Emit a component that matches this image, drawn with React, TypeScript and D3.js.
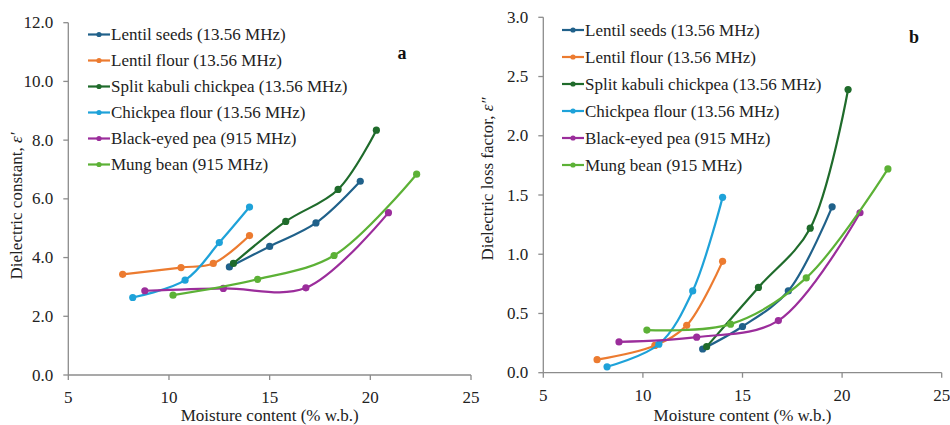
import React from 'react';
import * as d3 from 'd3';

// series names and colours
const seriesNames = [
  'Lentil seeds (13.56 MHz)',
  'Lentil flour (13.56 MHz)',
  'Split kabuli chickpea (13.56 MHz)',
  'Chickpea flour (13.56 MHz)',
  'Black-eyed pea (915 MHz)',
  'Mung bean (915 MHz)',
];
const seriesColors = ['#20618a', '#ec7b30', '#1f6b2b', '#1ea2d9', '#9b2d9b', '#5cb136'];

// moisture content (% w.b.)
const moistureLentilSeeds = [13.0, 15.0, 17.3, 19.5];
const moistureLentilFlour = [7.7, 10.6, 12.2, 14.0];
const moistureKabuli = [13.2, 15.8, 18.4, 20.3];
const moistureChickpeaFlour = [8.2, 10.8, 12.5, 14.0];
const moistureBlackEyed = [8.8, 12.7, 16.8, 20.9];
const moistureMung = [10.2, 14.4, 18.2, 22.3];

// dielectric constant (panel a)
const constLentilSeeds = [3.68, 4.38, 5.18, 6.6];
const constLentilFlour = [3.43, 3.66, 3.8, 4.75];
const constKabuli = [3.8, 5.23, 6.32, 8.34];
const constChickpeaFlour = [2.64, 3.23, 4.51, 5.72];
const constBlackEyed = [2.87, 2.95, 2.97, 5.53];
const constMung = [2.72, 3.26, 4.07, 6.84];

// dielectric loss factor (panel b)
const lossLentilSeeds = [0.2, 0.39, 0.69, 1.4];
const lossLentilFlour = [0.11, 0.23, 0.4, 0.94];
const lossKabuli = [0.22, 0.72, 1.22, 2.39];
const lossChickpeaFlour = [0.05, 0.24, 0.69, 1.48];
const lossBlackEyed = [0.26, 0.3, 0.44, 1.35];
const lossMung = [0.36, 0.41, 0.8, 1.72];

const xTicks = [5, 10, 15, 20, 25];
const yTicksA = [0, 2, 4, 6, 8, 10, 12];
const yTicksB = [0, 0.5, 1, 1.5, 2, 2.5, 3];

const moisture = [
  moistureLentilSeeds, moistureLentilFlour, moistureKabuli,
  moistureChickpeaFlour, moistureBlackEyed, moistureMung,
];
const constValues = [
  constLentilSeeds, constLentilFlour, constKabuli,
  constChickpeaFlour, constBlackEyed, constMung,
];
const lossValues = [
  lossLentilSeeds, lossLentilFlour, lossKabuli,
  lossChickpeaFlour, lossBlackEyed, lossMung,
];

const FONT = 'Liberation Serif, DejaVu Serif, serif';
const AXIS = '#8c8c8c';
const FS = 17;

type PanelProps = {
  values: number[][];
  yTicks: number[];
  yMax: number;
  x0: number; x1: number; yTop: number; yBottom: number;
  yTitle: React.ReactNode;
  yTitleX: number; yTitleY: number;
  letter: string; letterX: number; letterY: number;
  legendX: number; legendY: number; legendStep: number;
};

const Panel = (p: PanelProps) => {
  const x = d3.scaleLinear().domain([5, 25]).range([p.x0, p.x1]);
  const y = d3.scaleLinear().domain([0, p.yMax]).range([p.yBottom, p.yTop]);
  const line = d3.line<[number, number]>()
    .x(d => x(d[0]))
    .y(d => y(d[1]))
    .curve(d3.curveCatmullRom.alpha(0.5));

  return (
    <g>
      {/* axes */}
      <line x1={p.x0} x2={p.x1} y1={p.yBottom} y2={p.yBottom} stroke={AXIS} strokeWidth={1.3} />
      <line x1={p.x0} x2={p.x0} y1={p.yTop} y2={p.yBottom} stroke={AXIS} strokeWidth={1.3} />
      {xTicks.map(t => (
        <g key={'x' + t}>
          <line x1={x(t)} x2={x(t)} y1={p.yBottom} y2={p.yBottom + 5} stroke={AXIS} strokeWidth={1.3} />
          <text x={x(t)} y={p.yBottom + 28} textAnchor="middle" fontSize={FS} fill="#222">{t}</text>
        </g>
      ))}
      {p.yTicks.map(t => (
        <g key={'y' + t}>
          <line x1={p.x0 - 5} x2={p.x0} y1={y(t)} y2={y(t)} stroke={AXIS} strokeWidth={1.3} />
          <text x={p.x0 - 15} y={y(t) + 5.5} textAnchor="end" fontSize={FS} fill="#222">{t.toFixed(1)}</text>
        </g>
      ))}
      <text x={(p.x0 + p.x1) / 2} y={421} textAnchor="middle" fontSize={FS} fill="#222">Moisture content (% w.b.)</text>
      <text transform={`translate(${p.yTitleX},${p.yTitleY}) rotate(-90)`} textAnchor="middle" fontSize={FS} fill="#222">
        {p.yTitle}
      </text>
      <text x={p.letterX} y={p.letterY} fontSize={18} fontWeight="bold" fill="#111" textAnchor="middle">{p.letter}</text>

      {/* series */}
      {p.values.map((vals, i) => {
        const pts = vals.map((v, j) => [moisture[i][j], v] as [number, number]);
        return (
          <g key={seriesNames[i]}>
            <path d={line(pts) || ''} fill="none" stroke={seriesColors[i]} strokeWidth={2.2} />
            {pts.map((d, j) => (
              <circle key={j} cx={x(d[0])} cy={y(d[1])} r={3.6} fill={seriesColors[i]} />
            ))}
          </g>
        );
      })}

      {/* legend */}
      {seriesNames.map((name, i) => {
        const ly = p.legendY + i * p.legendStep;
        return (
          <g key={'lg' + i}>
            <line x1={p.legendX} x2={p.legendX + 22} y1={ly} y2={ly} stroke={seriesColors[i]} strokeWidth={2.2} />
            <circle cx={p.legendX + 11} cy={ly} r={2.6} fill={seriesColors[i]} />
            <text x={p.legendX + 23} y={ly + 5.8} fontSize={FS} fill="#222">{name}</text>
          </g>
        );
      })}
    </g>
  );
};

const App = () => (
  <svg width={950} height={425} style={{ position: 'absolute', left: 0, top: 0, background: '#fff', fontFamily: FONT }}>
    <Panel
      values={constValues}
      yTicks={yTicksA}
      yMax={12}
      x0={68.3} x1={471} yTop={22.7} yBottom={375}
      yTitle={<>Dielectric constant, <tspan fontStyle="italic">ε′</tspan></>}
      yTitleX={22} yTitleY={206}
      letter="a" letterX={402} letterY={59}
      legendX={88} legendY={34.5} legendStep={26}
    />
    <Panel
      values={lossValues}
      yTicks={yTicksB}
      yMax={3}
      x0={543.3} x1={941.7} yTop={17.3} yBottom={372.7}
      yTitle={<>Dielectric loss factor, <tspan fontStyle="italic">ε″</tspan></>}
      yTitleX={493} yTitleY={179}
      letter="b" letterX={914} letterY={43}
      legendX={562} legendY={30} legendStep={27}
    />
  </svg>
);

export default App;
